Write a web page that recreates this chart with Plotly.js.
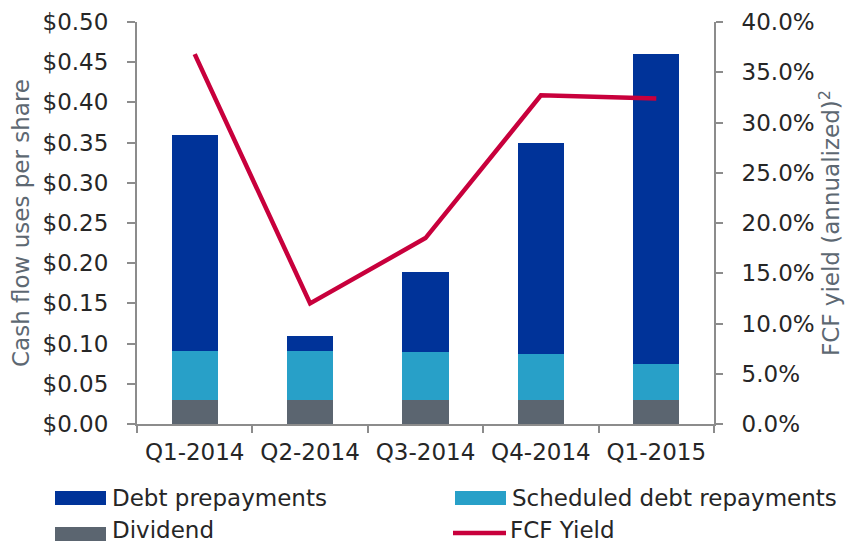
<!DOCTYPE html>
<html>
<head>
<meta charset="utf-8">
<script src="https://cdn.plot.ly/plotly-3.0.1.min.js"></script>
<style>html,body{margin:0;padding:0;background:#fff;}#chart{width:850px;height:543px;}</style>
</head>
<body>
<div id="chart"></div>
<script>
// ---- data ----
const categories = ['Q1-2014', 'Q2-2014', 'Q3-2014', 'Q4-2014', 'Q1-2015'];
const dividend = [0.03, 0.03, 0.03, 0.03, 0.03];
const scheduledDebtRepayments = [0.061, 0.061, 0.059, 0.057, 0.045];
const debtPrepayments = [0.269, 0.019, 0.100, 0.263, 0.385];
const fcfYield = [0.368, 0.120, 0.185, 0.327, 0.324];
const seriesNames = ['Debt prepayments', 'Scheduled debt repayments', 'Dividend', 'FCF Yield'];

// ---- styles ----
const colors = {
  debt: '#003399',
  sched: '#28a0c8',
  div: '#5b6570',
  fcf: '#c8003c'
};
const FONT = 'DejaVu Sans, Liberation Sans, Arial, sans-serif';
const axisGrey = '#8c8c8c';
const textDark = '#262626';
const titleGrey = '#5d6872';

// plot area in pixels
const L = 137, R = 714, T = 22, B = 424;
const W = 850, H = 543;
const px = x => (x - L) / (R - L);
const py = y => (B - y) / (B - T);

const traces = [
  {type: 'bar', x: categories, y: dividend, name: seriesNames[2], marker: {color: colors.div}, showlegend: false},
  {type: 'bar', x: categories, y: scheduledDebtRepayments, name: seriesNames[1], marker: {color: colors.sched}, showlegend: false},
  {type: 'bar', x: categories, y: debtPrepayments, name: seriesNames[0], marker: {color: colors.debt}, showlegend: false},
  {type: 'scatter', mode: 'lines', x: categories, y: fcfYield, name: seriesNames[3], yaxis: 'y2',
   line: {color: colors.fcf, width: 4.5}, showlegend: false}
];

// custom legend (two columns)
const legendItems = [
  {name: seriesNames[0], color: colors.debt, kind: 'box', x: 55, y: 498, ty: 498},
  {name: seriesNames[1], color: colors.sched, kind: 'box', x: 455, y: 498, ty: 498},
  {name: seriesNames[2], color: colors.div, kind: 'box', x: 55, y: 534, ty: 530},
  {name: seriesNames[3], color: colors.fcf, kind: 'line', x: 453, y: 533, ty: 530}
];
const shapes = [];
const annotations = [];
legendItems.forEach(it => {
  if (it.kind === 'box') {
    shapes.push({type: 'rect', xref: 'paper', yref: 'paper', x0: px(it.x), x1: px(it.x + 51),
      y0: py(it.y + 7), y1: py(it.y - 7), fillcolor: it.color, line: {width: 0}});
  } else {
    shapes.push({type: 'line', xref: 'paper', yref: 'paper', x0: px(it.x), x1: px(it.x + 53),
      y0: py(it.y), y1: py(it.y), line: {color: it.color, width: 4.5}});
  }
  annotations.push({xref: 'paper', yref: 'paper', x: px(it.x + 55), y: py(it.ty), xanchor: 'left', yanchor: 'middle',
    text: it.name, showarrow: false, font: {family: FONT, size: 23, color: textDark}});
});

const layout = {
  width: W, height: H,
  margin: {l: L, r: W - R, t: T, b: H - B},
  paper_bgcolor: '#fff', plot_bgcolor: '#fff',
  barmode: 'stack', bargap: 0.6,
  showlegend: false,
  font: {family: FONT, size: 23, color: textDark},
  xaxis: {
    type: 'category', showline: true, linecolor: axisGrey, linewidth: 2,
    ticks: 'outside', tickson: 'boundaries', ticklen: 7, tickcolor: axisGrey, tickwidth: 2,
    showgrid: false, zeroline: false, ticklabelstandoff: 6,
    tickfont: {family: FONT, size: 23, color: textDark}
  },
  yaxis: {
    range: [0, 0.5], dtick: 0.05, tickformat: '$.2f',
    showline: true, linecolor: axisGrey, linewidth: 2,
    ticks: 'outside', ticklen: 8, tickcolor: axisGrey, tickwidth: 2,
    showgrid: false, zeroline: false, ticklabelstandoff: 14,
    tickfont: {family: FONT, size: 23, color: textDark},
    title: {text: 'Cash flow uses per share', standoff: 6, font: {family: FONT, size: 23, color: titleGrey}}
  },
  yaxis2: {
    overlaying: 'y', side: 'right', range: [0, 0.4], dtick: 0.05, tickformat: '.1%',
    showline: true, linecolor: axisGrey, linewidth: 2,
    ticks: 'outside', ticklen: 7, tickcolor: axisGrey, tickwidth: 2,
    showgrid: false, zeroline: false, ticklabelstandoff: 14,
    tickfont: {family: FONT, size: 23, color: textDark},
    title: {text: 'FCF yield (annualized)<sup>2</sup>', standoff: 8, font: {family: FONT, size: 23, color: titleGrey}}
  },
  shapes: shapes,
  annotations: annotations
};

Plotly.newPlot('chart', traces, layout, {displayModeBar: false, staticPlot: true});
</script>
</body>
</html>
